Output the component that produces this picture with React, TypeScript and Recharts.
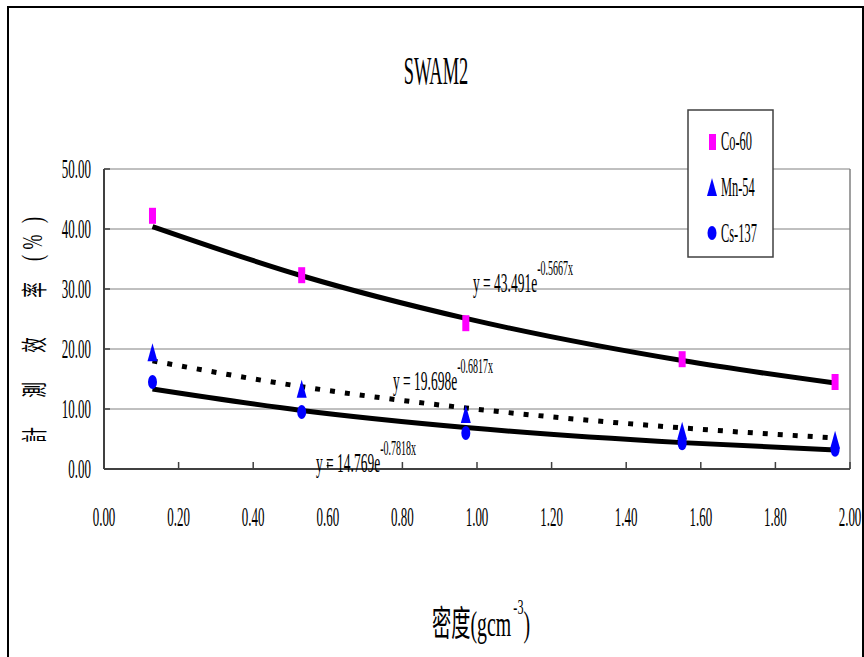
import React from 'react';
import { ComposedChart, Line, XAxis, YAxis, CartesianGrid, ReferenceLine } from 'recharts';

// densities (g/cm3) of the five samples
const density = [0.13, 0.53, 0.97, 1.55, 1.96];
const co60 = [42.2, 32.3, 24.3, 18.3, 14.5];
const mn54 = [19.3, 13.2, 9.0, 6.2, 4.7];
const cs137 = [14.5, 9.5, 6.0, 4.3, 3.2];

// exponential trend lines y = a * e^(b x), as printed on the chart
const fitNames = ['co', 'mn', 'cs'];
const fitA = [43.491, 19.698, 14.769];
const fitB = [-0.5667, -0.6817, -0.7818];
const fitLabelA = ['43.491', '19.698', '14.769'];
const fitLabelB = ['-0.5667x', '-0.6817x', '-0.7818x'];

const xTicks = [0, 0.2, 0.4, 0.6, 0.8, 1.0, 1.2, 1.4, 1.6, 1.8, 2.0];
const yTicks = [0, 10, 20, 30, 40, 50];

const seriesNames = ['Co-60', 'Mn-54', 'Cs-137'];
const yLabelChars = ['計', '測', '效', '率', '(', '%', ')'];

const data = density.map((x, i) => {
  const row: any = { x, co: co60[i], mn: mn54[i], cs: cs137[i] };
  fitNames.forEach((n, k) => {
    row[n + 'Fit'] = fitA[k] * Math.exp(fitB[k] * x);
  });
  return row;
});

const SERIF = '"Liberation Serif", "Times New Roman", serif';
const CJK = '"Noto Sans CJK TC", "Noto Sans CJK SC", sans-serif';
const MAGENTA = '#FF00FF';
const BLUE = '#0000FF';

const squareDot = (p: any) => (
  <rect key={'c' + p.index} x={p.cx - 3.5} y={p.cy - 8} width={7} height={16} fill={MAGENTA} />
);
const triDot = (p: any) => (
  <path key={'m' + p.index} d={`M${p.cx},${p.cy - 10} L${p.cx + 5},${p.cy + 8} L${p.cx - 5},${p.cy + 8} Z`} fill={BLUE} />
);
const ovalDot = (p: any) => (
  <ellipse key={'s' + p.index} cx={p.cx} cy={p.cy} rx={4.5} ry={7} fill={BLUE} />
);

const YTick = (p: any) => (
  <g>
    <text transform={`translate(${p.x},${p.y}) scale(0.48,1)`} textAnchor="end" dy="0.35em"
      fontFamily={SERIF} fontSize={27} fill="#000">
      {p.payload.value.toFixed(2)}
    </text>
    {p.payload.value !== 0 && <line x1={p.x + 13} x2={p.x + 19} y1={p.y} y2={p.y} stroke="#404040" strokeWidth={1.5} />}
  </g>
);

const XTick = (p: any) => (
  <g>
    <text transform={`translate(${p.x},${p.y + 57}) scale(0.48,1)`} textAnchor="middle"
      fontFamily={SERIF} fontSize={27} fill="#000">
      {p.payload.value.toFixed(2)}
    </text>
    {p.payload.value !== 0 && <line x1={p.x} x2={p.x} y1={p.y} y2={p.y - 7} stroke="#404040" strokeWidth={1.5} />}
  </g>
);

const eqPos = [
  { x: 473, y: 292 },
  { x: 393, y: 390 },
  { x: 316, y: 472 },
];

const Equation = ({ k }: { k: number }) => (
  <text transform={`translate(${eqPos[k].x},${eqPos[k].y}) scale(0.5,1)`} fontFamily={SERIF} fontSize={27} fill="#000">
    {'y = ' + fitLabelA[k] + 'e'}
    <tspan fontSize={20} dy={-17}>{fitLabelB[k]}</tspan>
  </text>
);

// vertical positions of the rotated y-axis title glyphs, bottom to top
const yLabelPos = [435, 390, 345, 290, 258, 242, 220];

export default function App() {
  return (
    <div style={{ position: 'absolute', left: 0, top: 0, width: 864, height: 657, background: '#fff', overflow: 'hidden' }}>
      <div style={{ position: 'absolute', left: 0, top: 0 }}>
        <ComposedChart width={864} height={657} data={data} margin={{ top: 169, right: 14, left: 44, bottom: 148 }}>
          <CartesianGrid horizontal vertical={false} stroke="#808080" strokeWidth={1} />
          <ReferenceLine x={2} stroke="#808080" strokeWidth={1.5} />
          <XAxis type="number" dataKey="x" domain={[0, 2]} ticks={xTicks} height={40}
            tickSize={0} tickMargin={0} tick={XTick} axisLine={{ stroke: '#404040', strokeWidth: 2 }} />
          <YAxis type="number" domain={[0, 50]} ticks={yTicks} width={60}
            tickSize={0} tickMargin={13} tick={YTick} axisLine={{ stroke: '#404040', strokeWidth: 2 }} />
          <Line dataKey="co" stroke="none" strokeWidth={0} dot={squareDot} activeDot={false} isAnimationActive={false} />
          <Line dataKey="coFit" type="monotone" stroke="#000" strokeWidth={5} dot={false} activeDot={false} isAnimationActive={false} />
          <Line dataKey="mnFit" type="monotone" stroke="#000" strokeWidth={5} strokeDasharray="5 10" dot={false} activeDot={false} isAnimationActive={false} />
          <Line dataKey="csFit" type="monotone" stroke="#000" strokeWidth={5} dot={false} activeDot={false} isAnimationActive={false} />
          <Line dataKey="cs" stroke="none" strokeWidth={0} dot={ovalDot} activeDot={false} isAnimationActive={false} />
          <Line dataKey="mn" stroke="none" strokeWidth={0} dot={triDot} activeDot={false} isAnimationActive={false} />
        </ComposedChart>
      </div>
      <svg width={864} height={657} style={{ position: 'absolute', left: 0, top: 0, pointerEvents: 'none' }}>
        <path d="M8 670 L8 7 L863 7 L863 670" fill="none" stroke="#000" strokeWidth={2} />
        <text transform="translate(436,84) scale(0.46,1)" textAnchor="middle" fontFamily={SERIF} fontSize={40} fill="#000">
          SWAM2
        </text>
        {[0, 1, 2].map((k) => <Equation key={k} k={k} />)}
        {yLabelChars.map((c, i) => (
          <text key={i} transform={`translate(32,${yLabelPos[i]}) rotate(-90) scale(0.6,1)`} textAnchor="middle"
            dominantBaseline="central" fontFamily={i < 4 ? CJK : SERIF} fontSize={i < 4 ? 26 : 30} fill="#000">
            {c}
          </text>
        ))}
        <text transform="translate(432,636) scale(0.55,1)" fontFamily={SERIF} fontSize={36} fill="#000">
          <tspan fontFamily={CJK} fontSize={35}>密度</tspan>
          <tspan>(gcm</tspan>
          <tspan fontSize={22} dx={4} dy={-22}>-3</tspan>
          <tspan dy={22}>)</tspan>
        </text>
        <rect x={688} y={110} width={85} height={147} fill="#fff" stroke="#404040" strokeWidth={1.5} />
        <rect x={709} y={134} width={7} height={16} fill={MAGENTA} />
        <path d="M712,178 L717,196 L707,196 Z" fill={BLUE} />
        <ellipse cx={712} cy={233} rx={4.5} ry={7} fill={BLUE} />
        {seriesNames.map((n, i) => (
          <text key={n} transform={`translate(721,${150 + i * 46}) scale(0.46,1)`} fontFamily={SERIF} fontSize={27} fill="#000">
            {n}
          </text>
        ))}
      </svg>
    </div>
  );
}
